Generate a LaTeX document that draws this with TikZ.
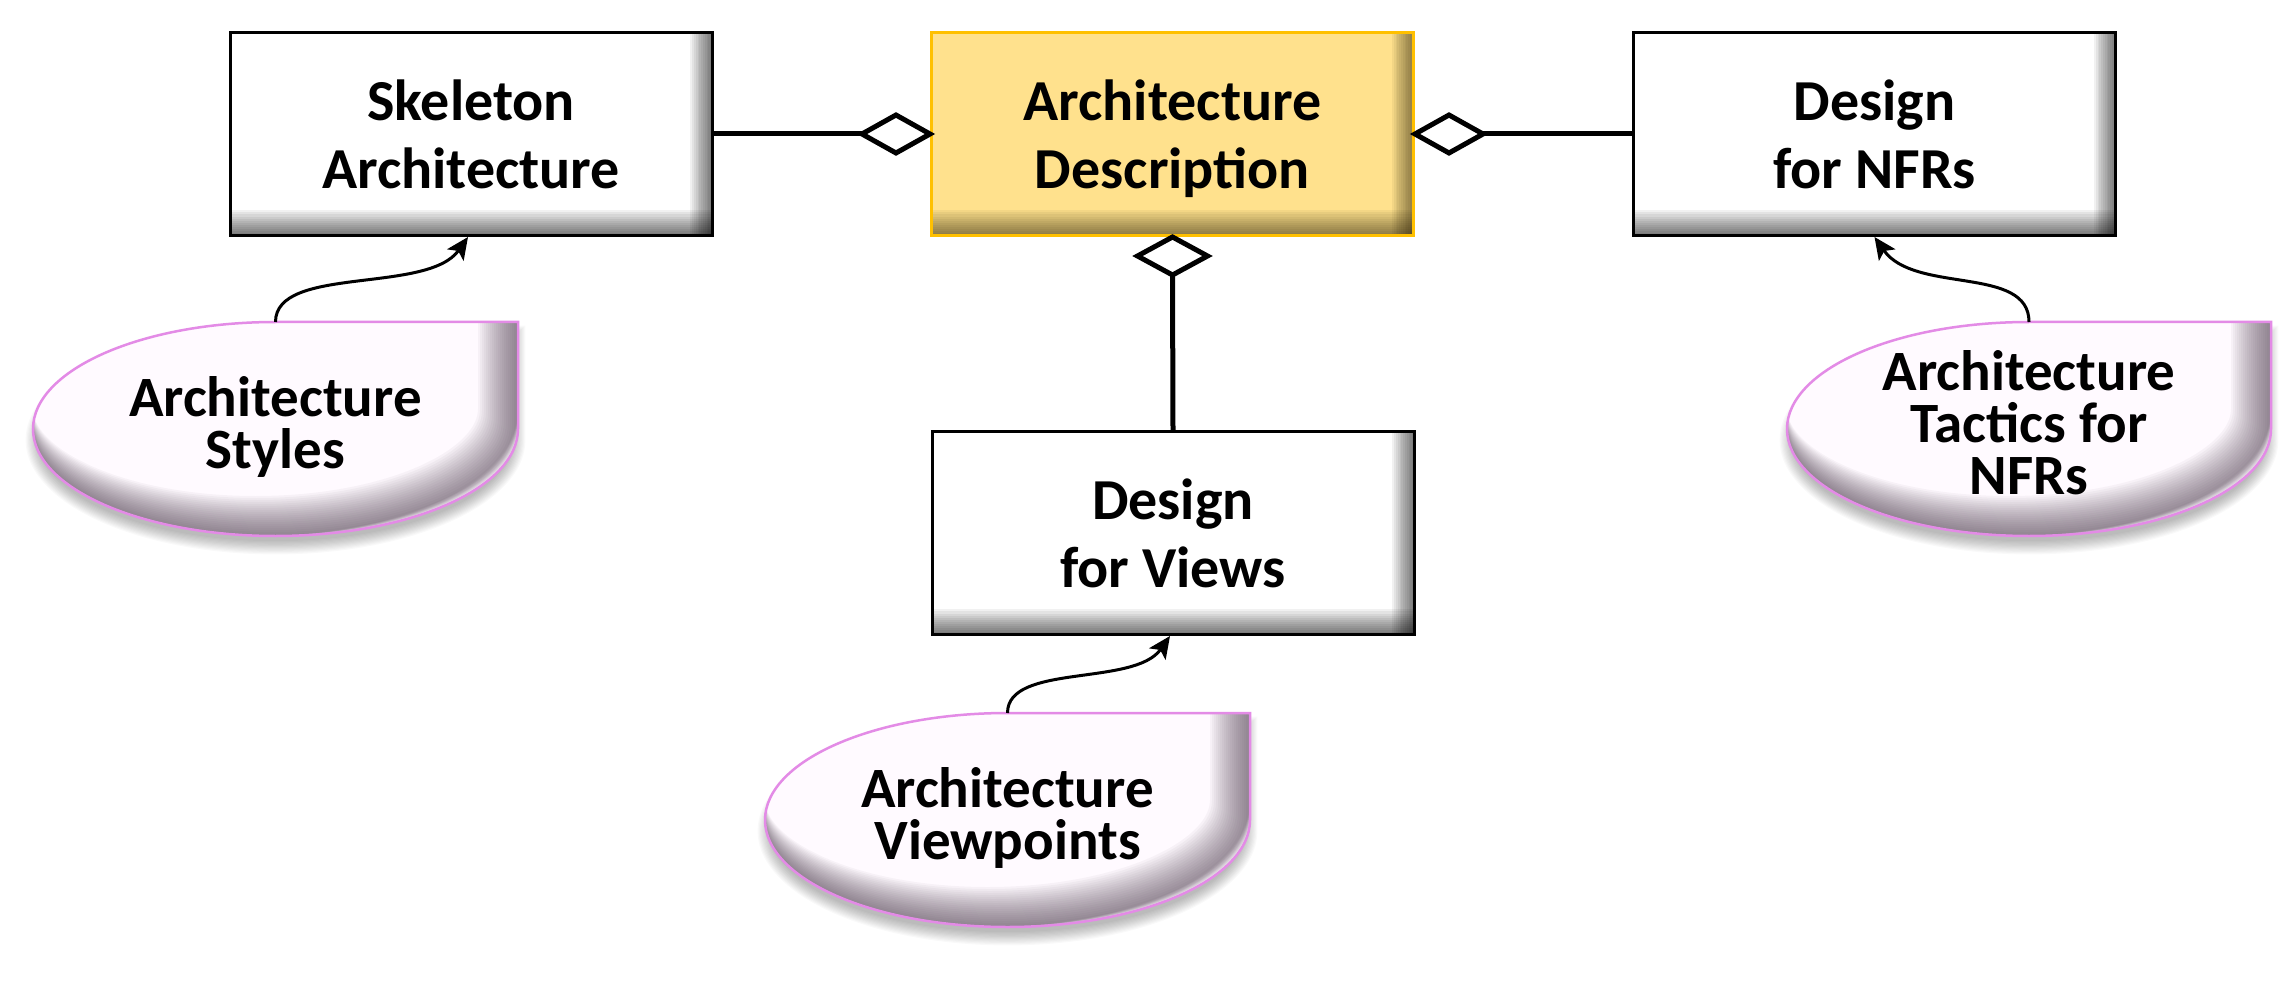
\documentclass[tikz,border=0pt]{standalone}
\usepackage{fontspec}
\setmainfont{Carlito}
\usetikzlibrary{arrows.meta}
\definecolor{golden}{HTML}{FFE18D}
\definecolor{goldline}{HTML}{FFC000}
\definecolor{goldshade}{HTML}{2A2008}
\definecolor{tearfill}{HTML}{FFFAFF}
\definecolor{tearline}{HTML}{E38BE6}
\definecolor{teardark}{HTML}{4F3F50}
\tikzset{
  tear/.style n args={4}{insert path={(#1,#2+#4) -- (#1+#3,#2+#4) -- (#1+#3,#2) arc[start angle=0,end angle=-270,x radius=#3,y radius=#4] -- cycle}},
  bevelpic/.style={path picture={
      \foreach \k in {1,...,12}{
        \fill[#1, opacity=0.055] ([xshift={-1.8*\k}]path picture bounding box.north east) rectangle (path picture bounding box.south east);
        \fill[#1, opacity=0.055] ([yshift={2.1*\k}]path picture bounding box.south west) rectangle (path picture bounding box.south east);}
  }},
  boxbase/.style={line width=3pt, minimum width=482pt, minimum height=203pt, align=center, text depth=-5pt,
      font=\fontsize{58}{68}\selectfont\bfseries},
  whitebox/.style={boxbase, draw=black, fill=white, bevelpic=black},
  goldbox/.style={boxbase, draw=goldline, fill=golden, bevelpic=goldshade},
  teartext/.style={align=center, text depth=0pt, font=\fontsize{57}{52}\selectfont\bfseries},
  conn/.style={line width=5pt},
  diam/.style={line width=5pt, fill=white, miter limit=10},
  arr/.style={line width=3pt, -{Stealth[length=22pt,width=20pt,inset=5pt]}}
}
\newcommand\drawtear[4]{%
  \foreach \k in {1,...,12}{\fill[black, opacity=0.022, tear={#1}{#2-11}{#3-7+\k*1.2}{#4-7+\k*1.2}];}
  \fill[tearfill, tear={#1}{#2}{#3}{#4}];
  \begin{scope}
    \clip[tear={#1}{#2}{#3}{#4}];
    \foreach \k in {1,...,20}{\draw[teardark, opacity=0.045, line width=\k*2pt, tear={#1-\k}{#2+\k}{#3}{#4}];}
  \end{scope}
  \draw[tearline, line width=2.5pt, tear={#1}{#2}{#3}{#4}];
}
\begin{document}
\begin{tikzpicture}[x=1pt,y=1pt]
\fill[white] (0,0) rectangle (2295,-1000);
\useasboundingbox (0,0) rectangle (2295,-1000);

% teardrop shapes
\drawtear{275.5}{-429}{242.5}{107}
\drawtear{2029}{-429}{242}{107}
\drawtear{1007.5}{-820}{242.5}{107}
\coordinate (stylesTop) at (275.5,-322);
\coordinate (tacticsTop) at (2029,-322);
\coordinate (viewpTop) at (1007.5,-713);
\node[teartext] (styles) at (275.5,-423) {Architecture\\Styles};
\node[teartext] (tactics) at (2029,-423) {Architecture\\Tactics for\\NFRs};
\node[teartext] (viewp) at (1007.5,-813) {Architecture\\Viewpoints};

% boxes
\node[whitebox] (skel) at (471,-134) {Skeleton\\Architecture};
\node[goldbox] (desc) at (1172.5,-134) {Architecture\\Description};
\node[whitebox] (nfr) at (1874.5,-134) {Design\\for NFRs};
\node[whitebox] (views) at (1173,-533) {Design\\for Views};

% aggregation connectors
\draw[conn] (skel.east) -- ([xshift=-68pt]desc.west);
\draw[diam] (desc.west) -- ++(-34,19) -- ++(-34,-19) -- ++(34,-19) -- cycle;
\draw[conn] ([xshift=68pt]desc.east) -- (nfr.west);
\draw[diam] (desc.east) -- ++(34,19) -- ++(34,-19) -- ++(-34,-19) -- cycle;
\draw[conn] ([yshift=-38pt]desc.south) -- (views.north);
\draw[diam] (desc.south) -- ++(35,-19) -- ++(-35,-19) -- ++(-35,19) -- cycle;

% curved arrows
\draw[arr] (stylesTop) to[out=90, in=235, out distance=57pt, in distance=70pt] ([xshift=-3pt]skel.south);
\draw[arr] (viewpTop) to[out=90, in=235, out distance=50pt, in distance=62pt] ([xshift=-3pt]views.south);
\draw[arr] (tacticsTop) to[out=90, in=-55, out distance=57pt, in distance=70pt] (nfr.south);
\end{tikzpicture}
\end{document}
